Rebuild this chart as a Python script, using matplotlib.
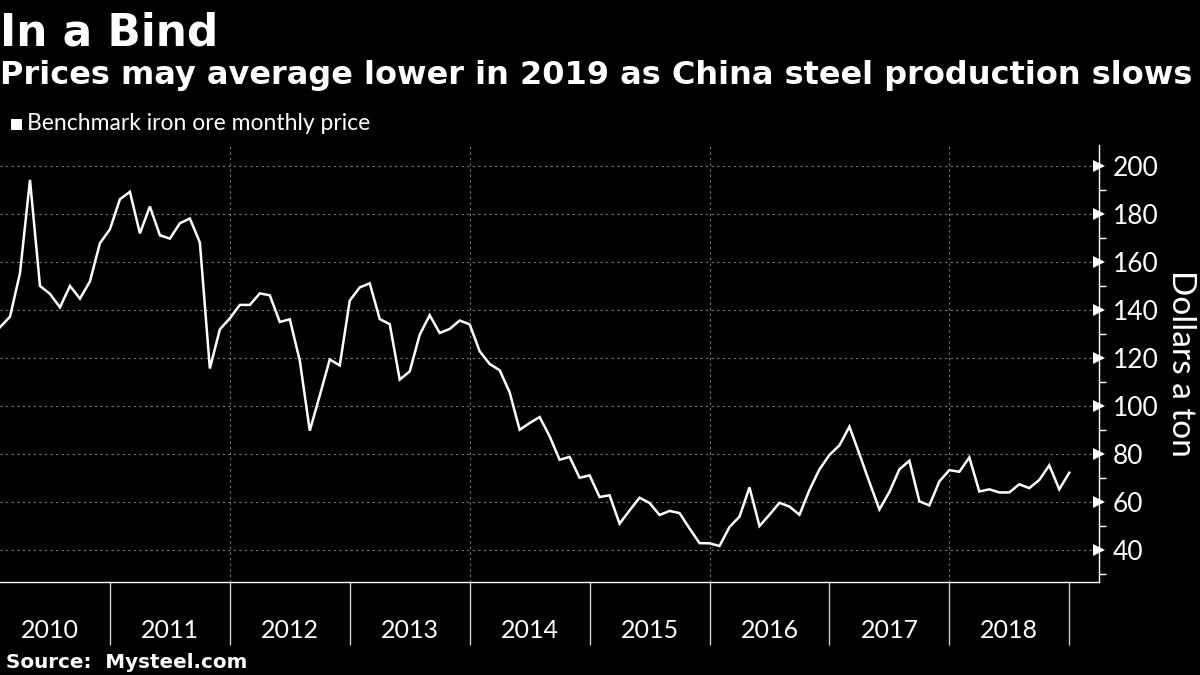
import matplotlib
matplotlib.use("Agg")
import matplotlib.pyplot as plt
import numpy as np

# Benchmark iron ore monthly price, Jan 2010 - Dec 2018 (USD/ton)
prices = [
    132.8, 137.2, 155.3, 194.2, 150.0, 146.7, 141.1, 150.0, 144.7, 151.9, 167.8, 173.6,  # 2010
    186.1, 189.2, 171.9, 183.1, 171.1, 169.7, 176.1, 178.1, 168.1, 115.6, 131.9, 136.5,  # 2011
    142.1, 142.1, 146.9, 146.1, 135.0, 136.1, 118.9, 89.7, 104.4, 119.4, 116.9, 143.9,   # 2012
    149.4, 151.1, 136.2, 134.1, 111.0, 114.4, 129.7, 137.8, 130.4, 132.1, 135.6, 134.0,  # 2013
    122.8, 117.5, 114.9, 105.7, 90.1, 92.9, 95.4, 87.4, 77.6, 78.8, 70.1, 71.1,          # 2014
    62.1, 62.8, 51.0, 56.5, 61.8, 59.6, 54.6, 56.3, 55.4, 49.0, 42.9, 42.8,              # 2015
    41.7, 49.6, 53.9, 66.1, 50.0, 54.7, 59.7, 58.1, 54.7, 65.0, 73.6, 79.6,              # 2016
    83.6, 91.4, 80.0, 68.3, 56.9, 64.2, 73.6, 77.2, 60.3, 58.6, 68.6, 73.3,              # 2017
    72.6, 78.6, 64.4, 65.3, 64.0, 64.0, 67.4, 65.8, 69.2, 75.3, 65.3, 72.2,              # 2018
]
start_year = 2010
year_labels = ["2010", "2011", "2012", "2013", "2014", "2015", "2016", "2017", "2018"]
y_ticks = [40, 60, 80, 100, 120, 140, 160, 180, 200]

title = "In a Bind"
subtitle = "Prices may average lower in 2019 as China steel production slows"
legend_label = "Benchmark iron ore monthly price"
y_label = "Dollars a ton"
source = "Source:  Mysteel.com"

# month-end positions in fractional years
x = np.array([start_year + (i + 1) / 12 for i in range(len(prices))])

BG = "black"
FG = "white"
GRID = "#7a7a7a"
LIGHT = ["Lato", "DejaVu Sans"]
BOLD = ["DejaVu Sans"]

fig = plt.figure(figsize=(12, 6.75), dpi=100, facecolor=BG)
ax = fig.add_axes([0.0, 1 - 582 / 675, 1099 / 1200, (582 - 145) / 675])
ax.set_facecolor(BG)

ax.plot(x, prices, color=FG, lw=1.8, solid_joinstyle="miter", zorder=3)

ax.set_xlim(start_year + 1 / 12, 2019.248)
ax.set_ylim(26.7, 208.7)

# gridlines
for yv in y_ticks:
    ax.axhline(yv, color=GRID, lw=0.8, ls=(0, (2, 3)), zorder=1)
for xv in range(2012, 2019, 2):
    ax.axvline(xv, color=GRID, lw=0.8, ls=(0, (2, 3)), zorder=1)

# spines
for s in ["top", "left"]:
    ax.spines[s].set_visible(False)
for s in ["right", "bottom"]:
    ax.spines[s].set_color(FG)
    ax.spines[s].set_linewidth(1.0)

# y axis on right
ax.yaxis.tick_right()
ax.set_yticks(y_ticks)
ax.set_yticks(np.arange(30, 210, 20), minor=True)
ax.set_yticklabels([str(v) for v in y_ticks], family=LIGHT, fontsize=19, color=FG)
ax.tick_params(axis="y", which="major", length=0, pad=10, right=True, left=False)
for t in ax.yaxis.get_major_ticks():
    t.tick2line.set_marker(">")
    t.tick2line.set_markersize(8)
    t.tick2line.set_markeredgewidth(0)
    t.tick2line.set_color(FG)
    t.tick2line.set_visible(True)
ax.tick_params(axis="y", which="minor", length=5, width=1, color=FG, right=True, left=False)

fig.text(1181 / 1200, 1 - 363 / 675, y_label, rotation=270, family=LIGHT, fontsize=24,
         color=FG, ha="center", va="center")

# x axis: long separators at year boundaries, labels mid-year
ax.set_xticks(list(range(2011, 2020)))
ax.set_xticklabels([])
ax.tick_params(axis="x", which="major", length=45, width=1, color="#cccccc", direction="out")
ax.set_xticks([start_year + k + 0.5 for k in range(len(year_labels))], minor=True)
ax.set_xticklabels(year_labels, minor=True, family=LIGHT, fontsize=18, color=FG)
ax.tick_params(axis="x", which="minor", length=0, pad=27)

# titles
fig.text(0.0, 1 - 45 / 675, title, family=BOLD, fontweight="bold", fontsize=31.5, color=FG, va="baseline", ha="left")
fig.text(0.0, 1 - 84 / 675, subtitle, family=BOLD, fontweight="bold", fontsize=23, color=FG, va="baseline", ha="left")

# legend
fig.patches.append(plt.Rectangle((11 / 1200, 1 - 130 / 675), 11 / 1200, 11 / 675,
                                 transform=fig.transFigure, facecolor=FG, edgecolor="none"))
fig.text(27 / 1200, 1 - 124 / 675, legend_label, family=LIGHT, fontsize=16.5, color=FG, va="center", ha="left")

# source
fig.text(6 / 1200, 1 - 668 / 675, source, family=BOLD, fontweight="bold", fontsize=14.3, color=FG, va="baseline", ha="left")

fig.savefig("out.png", dpi=100, facecolor=BG)
